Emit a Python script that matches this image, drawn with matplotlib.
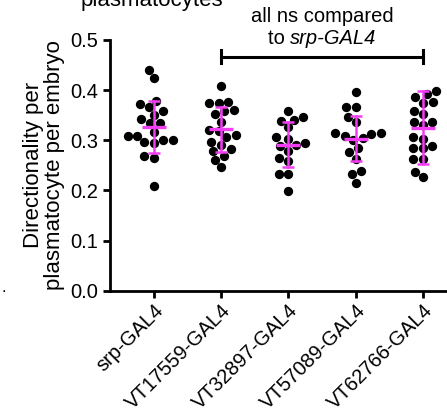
import numpy as np
import pandas as pd
import matplotlib
matplotlib.use('Agg')
import matplotlib.pyplot as plt
from matplotlib.offsetbox import TextArea, HPacker, AnnotationBbox
import seaborn as sns

# data
genotypes = ['srp-GAL4', 'VT17559-GAL4', 'VT32897-GAL4', 'VT57089-GAL4', 'VT62766-GAL4']
srp = [0.440, 0.424, 0.379, 0.372, 0.367, 0.358, 0.351, 0.342, 0.335, 0.334,
       0.317, 0.309, 0.309, 0.301, 0.301, 0.296, 0.294, 0.268, 0.264, 0.209]
vt17559 = [0.409, 0.377, 0.374, 0.374, 0.361, 0.359, 0.352, 0.337, 0.319, 0.321,
           0.307, 0.311, 0.297, 0.291, 0.282, 0.279, 0.268, 0.261, 0.246]
vt32897 = [0.358, 0.347, 0.341, 0.339, 0.326, 0.306, 0.303, 0.295, 0.289, 0.291,
           0.279, 0.264, 0.258, 0.233, 0.233, 0.198]
vt57089 = [0.397, 0.367, 0.367, 0.347, 0.336, 0.309, 0.314, 0.313, 0.315, 0.304,
           0.300, 0.284, 0.277, 0.263, 0.238, 0.232, 0.215]
vt62766 = [0.398, 0.392, 0.387, 0.377, 0.375, 0.359, 0.353, 0.337, 0.331, 0.337,
           0.307, 0.303, 0.289, 0.284, 0.284, 0.263, 0.263, 0.236, 0.226]
means = [0.327, 0.322, 0.291, 0.303, 0.325]
sds = [0.052, 0.045, 0.045, 0.045, 0.073]
yticks = [0.0, 0.1, 0.2, 0.3, 0.4, 0.5]

plt.rcParams['font.family'] = ['Liberation Sans', 'DejaVu Sans']

groups = [srp, vt17559, vt32897, vt57089, vt62766]
df = pd.DataFrame({
    'genotype': np.repeat(genotypes, [len(g) for g in groups]),
    'value': np.concatenate(groups),
})

fig = plt.figure(figsize=(4.47, 4.15), dpi=100)
ax = fig.add_axes([0.246, 0.299, 0.754, 0.605])

# swarm laid out on the marker size; the black edge makes the dots a bit bigger so they touch
sns.swarmplot(data=df, x='genotype', y='value', order=genotypes, color='black',
              size=5.0, linewidth=1.7, edgecolor='black', ax=ax, zorder=2)

mag = '#f23ef2'
for i, (m, s) in enumerate(zip(means, sds)):
    ax.plot([i - 0.18, i + 0.18], [m, m], color=mag, lw=2.4, zorder=3, solid_capstyle='butt')
    ax.plot([i, i], [m - s, m + s], color=mag, lw=1.8, zorder=3)
    for yy in (m - s, m + s):
        ax.plot([i - 0.09, i + 0.09], [yy, yy], color=mag, lw=1.8, zorder=3, solid_capstyle='butt')

# comparison bracket
ax.plot([1, 4], [0.466, 0.466], color='black', lw=2.2, clip_on=False)
for xx in (1, 4):
    ax.plot([xx, xx], [0.453, 0.479], color='black', lw=2.2, clip_on=False)
ax.text(2.5, 0.536, 'all ns compared', ha='center', va='baseline', fontsize=14.5)
line2 = HPacker(children=[TextArea('to ', textprops=dict(fontsize=14.5)),
                          TextArea('srp-GAL4', textprops=dict(fontsize=14.5, fontstyle='italic'))],
                align='baseline', pad=0, sep=0)
ab = AnnotationBbox(line2, (2.5, 0.483), xycoords='data', box_alignment=(0.5, 0),
                    frameon=False, pad=0, annotation_clip=False)
ax.add_artist(ab)

ax.set_xlim(-0.655, 4.36)
ax.set_ylim(0, 0.5)
ax.set_yticks(yticks)
ax.set_yticklabels([f'{t:.1f}' for t in yticks])
ax.set_xticks(range(len(genotypes)))
ax.set_xticklabels(genotypes, rotation=45, ha='right', rotation_mode='anchor')
ax.set_xlabel('')
ax.set_ylabel('Directionality per\nplasmatocyte per embryo', fontsize=16, labelpad=4,
              linespacing=0.95)

for side in ('top', 'right'):
    ax.spines[side].set_visible(False)
for side in ('left', 'bottom'):
    ax.spines[side].set_linewidth(2.0)
ax.tick_params(axis='both', width=2.0, length=5, labelsize=14.5, color='black')
ax.tick_params(axis='x', pad=2)

fig.text(152 / 447, 1 - 6 / 415, 'plasmatocytes', ha='center', va='baseline', fontsize=16)
fig.text(0.004, 1 - 292 / 415, '.', ha='left', va='baseline', fontsize=12)

fig.savefig('out.png', dpi=100)
